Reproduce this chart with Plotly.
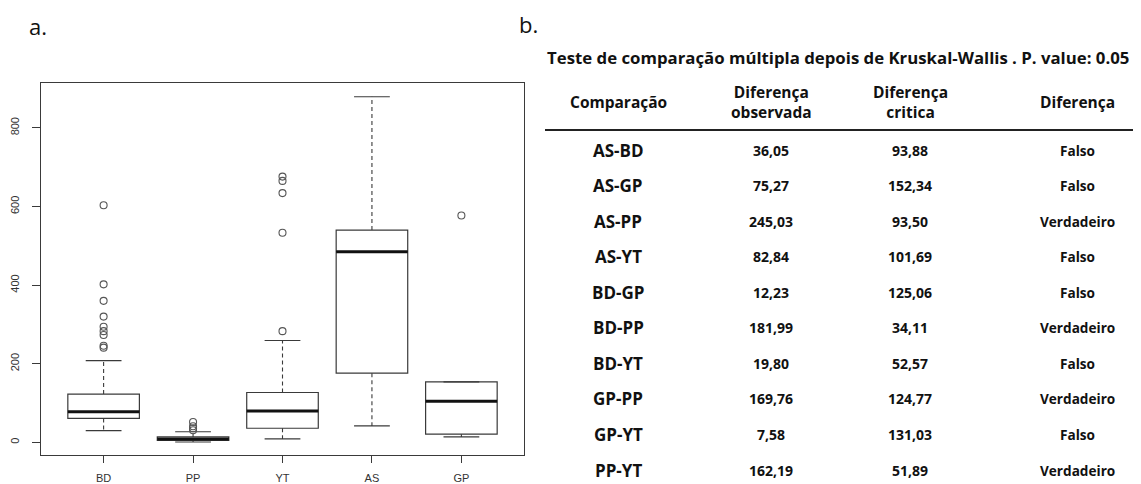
import plotly.graph_objects as go

# ---------------- data: box plot (panel a) ----------------
groups = ["BD", "PP", "YT", "AS", "GP"]
q1 = [61, 5, 36, 176, 21]
median = [78, 9, 80, 485, 105]
q3 = [123, 14, 127, 540, 154]
lower_whisker = [30, 1, 9, 42, 14]
upper_whisker = [208, 27, 259, 879, 154]
outliers = {
    "BD": [603, 402, 360, 320, 294, 283, 273, 246, 241],
    "PP": [52, 41, 36, 31],
    "YT": [676, 665, 634, 533, 283],
    "AS": [],
    "GP": [577],
}
y_ticks = [0, 200, 400, 600, 800]

# ---------------- data: table (panel b) ----------------
table_title = "Teste de comparação múltipla depois de Kruskal-Wallis . P. value: 0.05"
header = ["Comparação", "Diferença<br>observada", "Diferença<br>critica", "Diferença"]
comparisons = ["AS-BD", "AS-GP", "AS-PP", "AS-YT", "BD-GP", "BD-PP", "BD-YT", "GP-PP", "GP-YT", "PP-YT"]
observed = ["36,05", "75,27", "245,03", "82,84", "12,23", "181,99", "19,80", "169,76", "7,58", "162,19"]
critical = ["93,88", "152,34", "93,50", "101,69", "125,06", "34,11", "52,57", "124,77", "131,03", "51,89"]
difference = ["Falso", "Falso", "Verdadeiro", "Falso", "Falso", "Verdadeiro", "Falso", "Verdadeiro", "Falso", "Verdadeiro"]

OFF = 8  # page body margin
W, H = 1141 - OFF, 484 - OFF
BOX_W = 0.8
CAP_W = 0.4
LINE_C = "#3a3a3a"


def px(x):
    return (x - OFF) / W


def py(y):
    return 1 - (y - OFF) / H


fig = go.Figure()

for i, g in enumerate(groups):
    pos = i + 1
    fig.add_trace(go.Box(
        x=[pos], q1=[q1[i]], median=[median[i]], q3=[q3[i]],
        lowerfence=[q1[i]], upperfence=[q3[i]],
        width=BOX_W, whiskerwidth=0, fillcolor="white",
        line=dict(color=LINE_C, width=1.2), boxpoints=False,
        showlegend=False, hoverinfo="skip",
    ))
    for a, b in ((q3[i], upper_whisker[i]), (q1[i], lower_whisker[i])):
        fig.add_trace(go.Scatter(
            x=[pos, pos], y=[a, b], mode="lines",
            line=dict(color=LINE_C, width=1.1, dash="4px,3px"),
            showlegend=False, hoverinfo="skip",
        ))
    for v in (upper_whisker[i], lower_whisker[i]):
        fig.add_trace(go.Scatter(
            x=[pos - CAP_W / 2, pos + CAP_W / 2], y=[v, v], mode="lines",
            line=dict(color=LINE_C, width=1.1),
            showlegend=False, hoverinfo="skip",
        ))
    fig.add_trace(go.Scatter(
        x=[pos - BOX_W / 2, pos + BOX_W / 2], y=[median[i], median[i]], mode="lines",
        line=dict(color="#111111", width=3),
        showlegend=False, hoverinfo="skip",
    ))
    if outliers[g]:
        fig.add_trace(go.Scatter(
            x=[pos] * len(outliers[g]), y=outliers[g], mode="markers",
            marker=dict(symbol="circle-open", size=7, color="#555555", line=dict(width=1.1)),
            showlegend=False, hoverinfo="skip",
        ))

axis_font = dict(family="Liberation Sans, Arial, sans-serif", size=11, color="#333333")

fig.update_xaxes(
    domain=[px(41), px(524)], range=[0.3, 5.7],
    tickmode="array", tickvals=list(range(1, len(groups) + 1)), ticktext=groups,
    ticks="outside", ticklen=7, tickcolor=LINE_C, tickwidth=1, ticklabelstandoff=6,
    showline=True, linecolor=LINE_C, linewidth=1, mirror=True,
    showgrid=False, zeroline=False, tickfont=axis_font,
)
fig.update_yaxes(
    domain=[py(455), py(83)], range=[-32, 914],
    tickmode="array", tickvals=y_ticks, ticktext=[str(t) for t in y_ticks],
    ticks="outside", ticklen=8, tickcolor=LINE_C, tickwidth=1, tickangle=-90, ticklabelstandoff=9,
    showline=True, linecolor=LINE_C, linewidth=1, mirror=True,
    showgrid=False, zeroline=False, tickfont=axis_font,
)

ann = []
txt_font = "Open Sans, Lato, sans-serif"


def add_text(x, y, text, size, bold=False):
    ann.append(dict(
        x=px(x), y=py(y), xref="paper", yref="paper",
        text=("<b>" + text + "</b>") if bold else text,
        showarrow=False, xanchor="center", yanchor="middle",
        font=dict(family=txt_font, size=size, color="#111111"),
    ))


add_text(38, 26, "a.", 22)
add_text(528, 24, "b.", 22)
add_text(838, 58, table_title, 16.8, bold=True)

col_x = [618, 771, 910, 1077]
header_y = 102
for cx, h in zip(col_x, header):
    add_text(cx, header_y, h, 15.5, bold=True)

row_y0, row_dy = 150, 35.56
for r in range(len(comparisons)):
    yy = row_y0 + r * row_dy
    add_text(col_x[0], yy, comparisons[r], 17, bold=True)
    add_text(col_x[1], yy, observed[r], 14, bold=True)
    add_text(col_x[2], yy, critical[r], 14, bold=True)
    add_text(col_x[3], yy, difference[r], 13.6, bold=True)

shapes = [dict(type="line", xref="paper", yref="paper", x0=px(545), x1=1, y0=py(130), y1=py(130),
               line=dict(color="#222222", width=2))]

fig.update_layout(
    width=W, height=H, margin=dict(l=0, r=0, t=0, b=0),
    paper_bgcolor="white", plot_bgcolor="white",
    boxmode="overlay", annotations=ann, shapes=shapes, showlegend=False,
)

fig.write_html("out.html")
